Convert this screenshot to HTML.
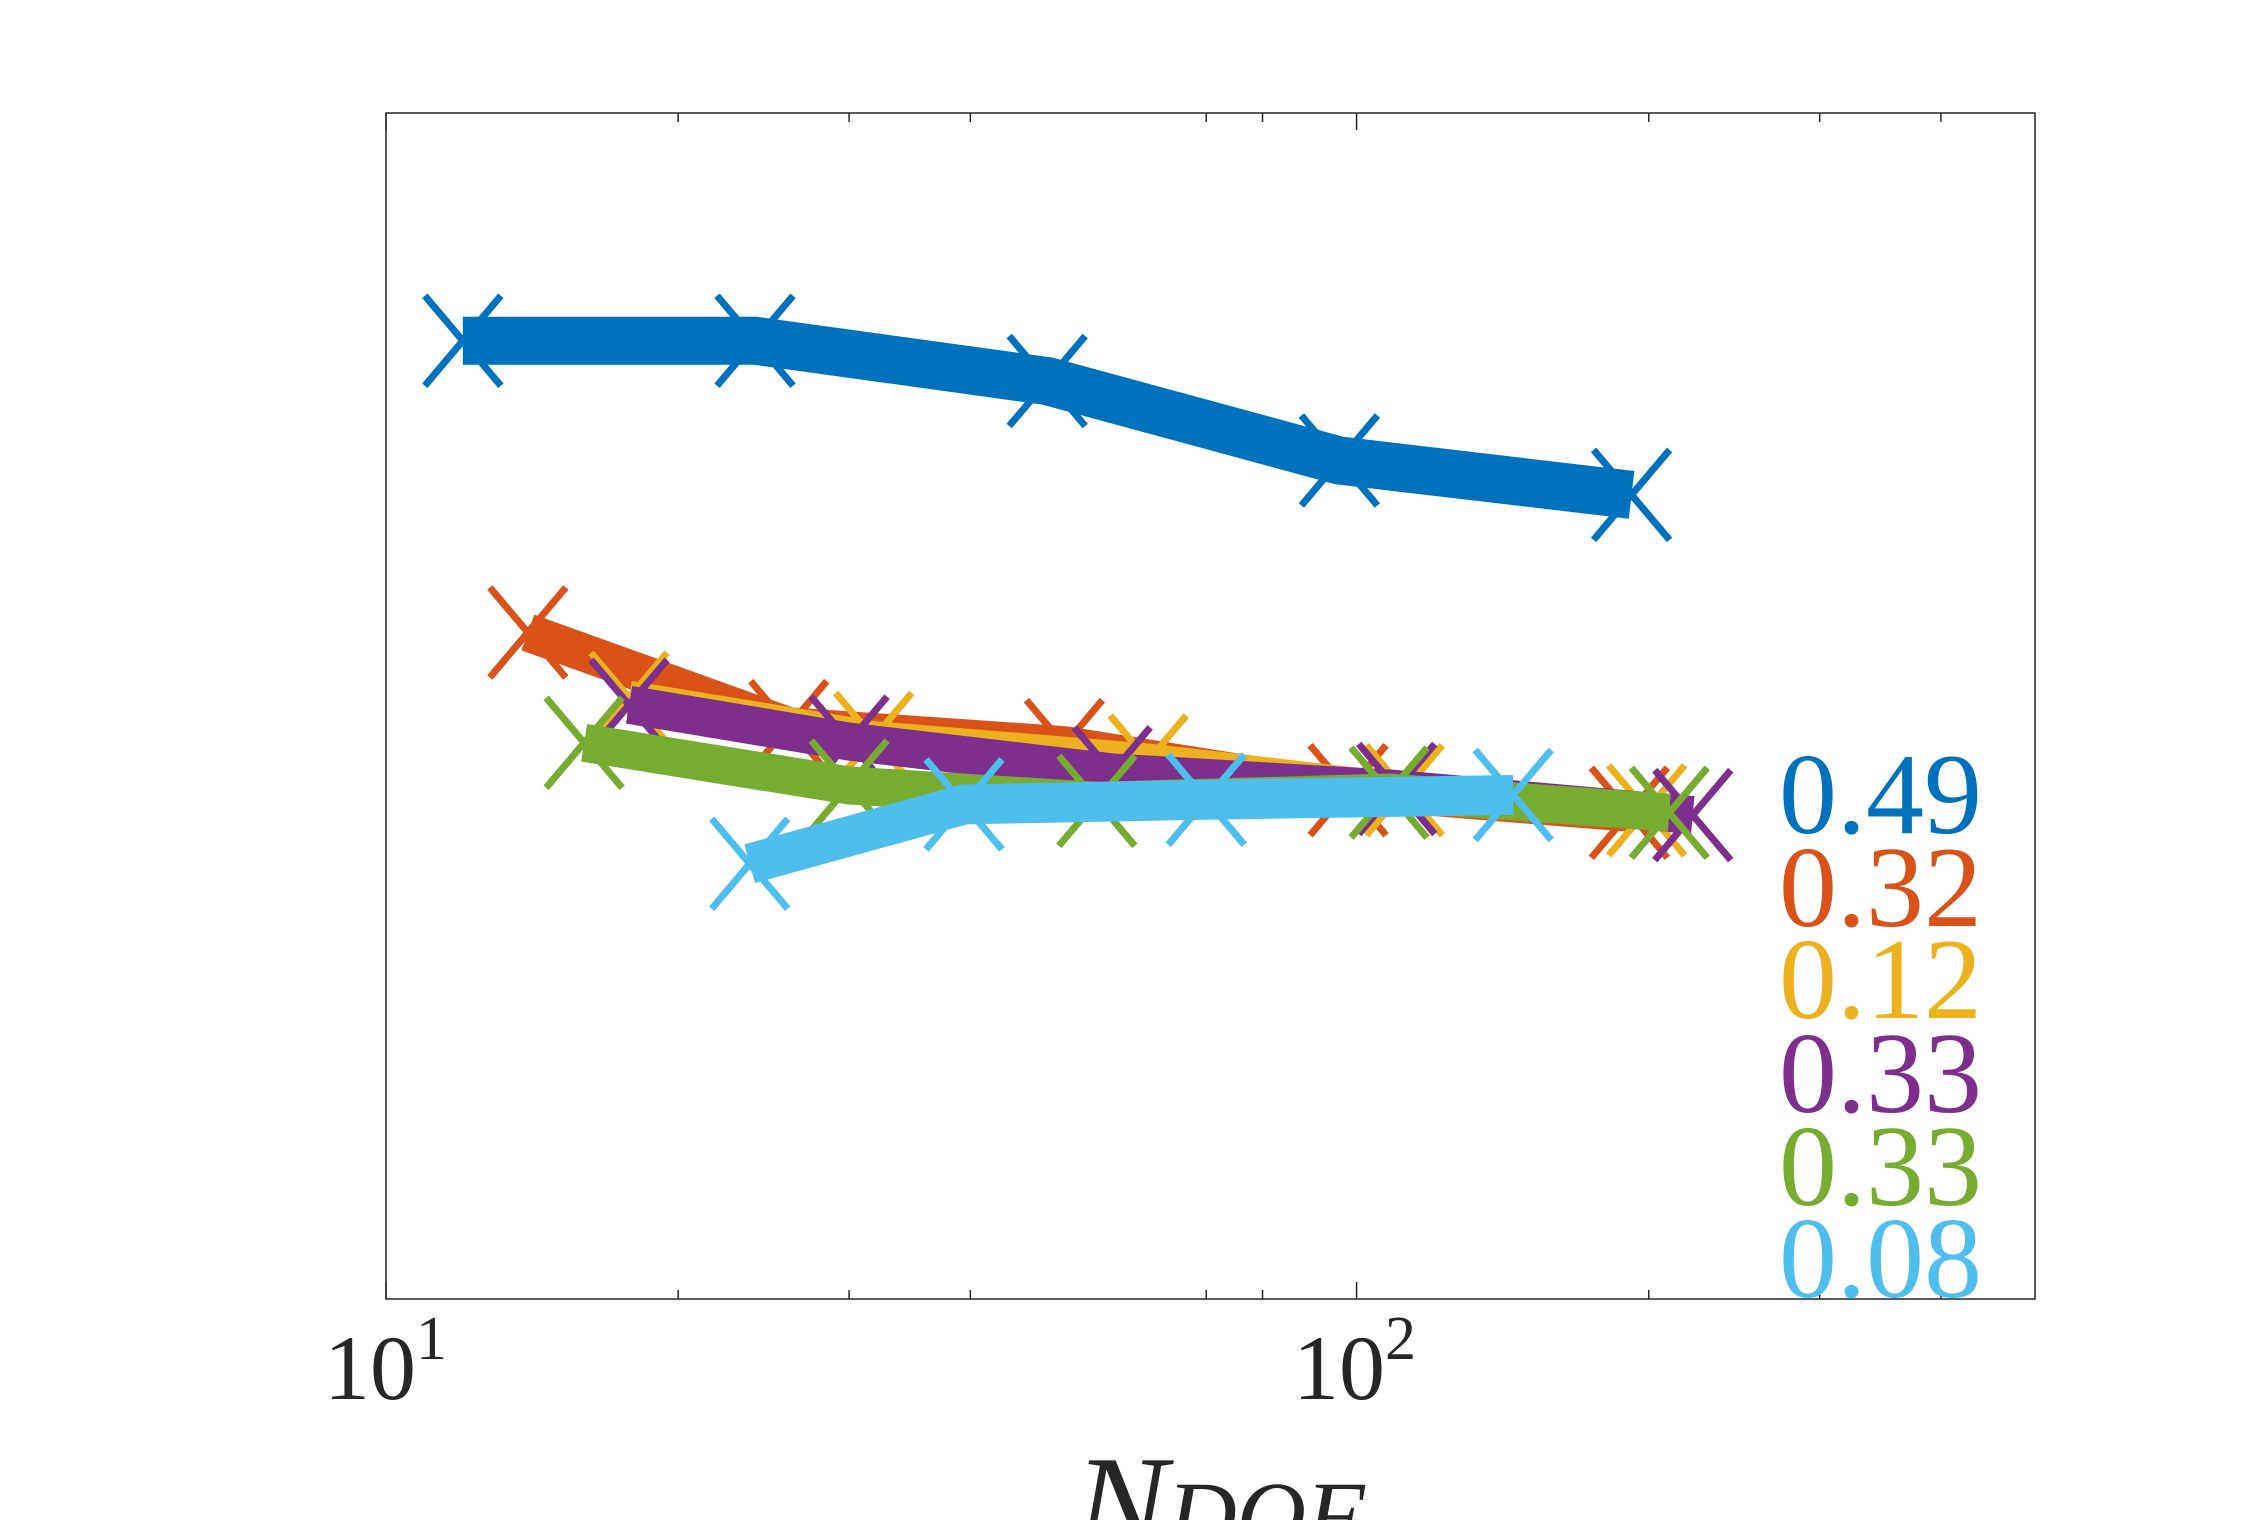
<!DOCTYPE html>
<html><head><meta charset="utf-8"><style>
html,body{margin:0;padding:0;background:#fff;}
svg{display:block;}
</style></head><body>
<svg id="chart" width="2250" height="1520" xmlns="http://www.w3.org/2000/svg">
<rect x="0" y="0" width="2250" height="1520" fill="#fff"/>
<g id="plot"></g>
<rect x="386" y="113" width="1649" height="1186" fill="none" stroke="#262626" stroke-width="1.5"/>
<g id="ticks"></g>
<g font-family="'Liberation Serif', serif" fill="#262626">
<text x="324" y="1399" font-size="92">10<tspan font-size="62" dy="-40">1</tspan></text>
<text x="1293" y="1399" font-size="92">10<tspan font-size="62" dy="-40">2</tspan></text>
<text x="1074" y="1552" font-size="140" font-style="italic">N<tspan font-size="96" dy="-4">DOF</tspan></text>
</g>
<g id="labels" font-family="'Liberation Serif', serif" font-size="116"></g>
</svg>
<script>
const colors = ["#0072BD","#D95319","#EDB120","#7E2F8E","#77AC30","#4DBEEE"];
const valueLabels = ["0.49","0.32","0.12","0.33","0.33","0.08"];
const nBlue = [12,24,48,96,192];
const yBlue = [0.808,0.808,0.774,0.707,0.678];
const nOrange = [14,26,50,98,191];
const yOrange = [0.562,0.483,0.467,0.429,0.410];
const nYellow = [17.8,31.8,61,112,199];
const yYellow = [0.507,0.473,0.454,0.429,0.412];
const nPurple = [17.8,30,56,110,222];
const yPurple = [0.501,0.470,0.444,0.430,0.408];
const nGreen = [16,30,54,108,210];
const yGreen = [0.469,0.433,0.420,0.427,0.410];
const nLight = [23.7,39.4,70,145];
const yLight = [0.367,0.417,0.421,0.425];
const majorTicks = [10,100];
const minorTicks = [20,30,40,70,80,200,300,400];

const X0=386, X1=2035, Y0=1299, Y1=113;
const lmin=1, lmax=Math.log10(500);
function xs(n){return X0+(Math.log10(n)-lmin)/(lmax-lmin)*(X1-X0);}
function ys(v){return Y0-v*(Y0-Y1);}
const NS="http://www.w3.org/2000/svg";
const plot=document.getElementById('plot');
const series=[[nBlue,yBlue,48],[nOrange,yOrange,38],[nYellow,yYellow,34],[nPurple,yPurple,38],[nGreen,yGreen,38],[nLight,yLight,40]];
const names=["blue","orange","yellow","purple","green","lightblue"];
series.forEach((s,i)=>{
  const g=document.createElementNS(NS,'g');
  
  
  const pl=document.createElementNS(NS,'polyline');
  pl.setAttribute('points',s[0].map((n,k)=>xs(n)+','+ys(s[1][k])).join(' '));
  pl.setAttribute('fill','none');pl.setAttribute('stroke',colors[i]);
  pl.setAttribute('stroke-width',s[2]);pl.setAttribute('stroke-linejoin','miter');pl.setAttribute('stroke-linecap','butt');
  
  
  g.appendChild(pl);
  s[0].forEach((n,k)=>{
    const cx=xs(n), cy=ys(s[1][k]);
    const p=document.createElementNS(NS,'path');
    p.setAttribute('d',`M${cx-38},${cy-45}L${cx+38},${cy+45}M${cx-38},${cy+45}L${cx+38},${cy-45}`);
    p.setAttribute('stroke',colors[i]);p.setAttribute('stroke-width',7);p.setAttribute('fill','none');
    
    
    g.appendChild(p);
  });
  plot.appendChild(g);
});
const ticks=document.getElementById('ticks');
function tick(n,len){
  [[Y0,Y0-len],[Y1,Y1+len]].forEach(([a,b])=>{
    const l=document.createElementNS(NS,'line');
    l.setAttribute('x1',xs(n));l.setAttribute('x2',xs(n));l.setAttribute('y1',a);l.setAttribute('y2',b);
    l.setAttribute('stroke','#262626');l.setAttribute('stroke-width',1.5);
    
    
    ticks.appendChild(l);
  });
}
majorTicks.forEach(n=>tick(n,17));
minorTicks.forEach(n=>tick(n,9));
const labels=document.getElementById('labels');
const baselines=[833,926,1018,1112,1205,1297];
valueLabels.forEach((t,i)=>{
  const tx=document.createElementNS(NS,'text');
  tx.setAttribute('x',1779);tx.setAttribute('y',baselines[i]);tx.setAttribute('fill',colors[i]);
  tx.textContent=t;
  
  
  labels.appendChild(tx);
});
</script>
</body></html>
